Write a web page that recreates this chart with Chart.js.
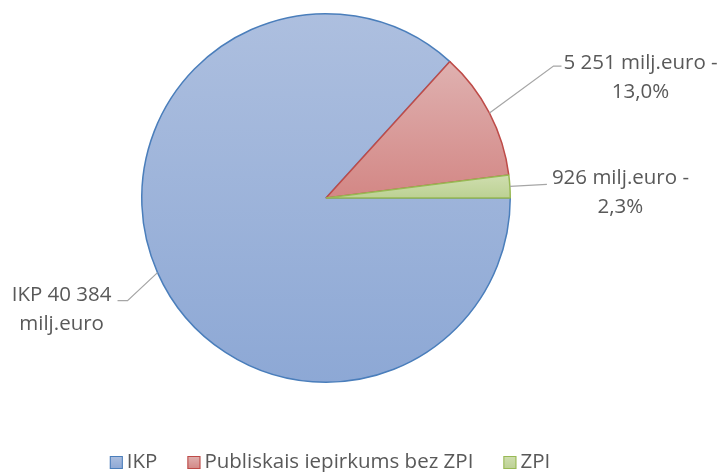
<!DOCTYPE html>
<html>
<head>
<meta charset="utf-8">
<script src="https://cdn.jsdelivr.net/npm/chart.js@4"></script>
<style>
  body { margin: 0; background: #fff; }
  #wrap { width: 723px; height: 472px; }
</style>
</head>
<body>
<div id="wrap"><canvas id="pie"></canvas></div>
<script>
const categories = ['IKP', 'Publiskais iepirkums bez ZPI', 'ZPI'];
const values = [40384, 5251, 926];
const valueLabels = ['IKP 40 384', '5 251 milj.euro -', '926 milj.euro -'];
const valueSubLabels = ['milj.euro', '13,0%', '2,3%'];

// styling
const fillTop = ['#adbfdf', '#dfb1b0', '#cfdeaf'];
const fillBottom = ['#8da8d5', '#d38785', '#bcd193'];
const borderColors = ['#4a7ebb', '#be4b48', '#98b954'];
const textColor = '#595959';
const lineColor = '#a6a6a6';
const font = '20.5px "Open Sans"';
// where each label sits, measured from the middle of its slice's outer edge
const labelPlacement = [
    { elbow: [-30, 28], end: [-40, 28], text: [-46, 28], align: 'right' },
    { elbow: [64, -47], end: [72, -47], text: [74, -44], align: 'left' },
    { elbow: [37, -2], end: [37, -2], text: [42, -2], align: 'left' }
];

// vertical gradient spanning the slice's own bounding box
function sliceGradient(context) {
    const chart = context.chart;
    const area = chart.chartArea;
    const i = context.dataIndex;
    if (!area || i === undefined) return fillBottom[0];
    const cx = (area.left + area.right) / 2;
    const cy = (area.top + area.bottom) / 2;
    const r = Math.min(area.width, area.height) / 2;
    const total = values.reduce((a, b) => a + b, 0);
    let a0 = 0;
    for (let k = 0; k < i; k++) a0 += values[k] / total * 2 * Math.PI;
    const a1 = a0 + values[i] / total * 2 * Math.PI;
    const ys = [cy, cy + r * Math.sin(a0), cy + r * Math.sin(a1)];
    [Math.PI / 2, 3 * Math.PI / 2].forEach(a => {
        if (a > a0 && a < a1) ys.push(cy + r * Math.sin(a));
    });
    const g = chart.ctx.createLinearGradient(0, Math.min(...ys), 0, Math.max(...ys));
    g.addColorStop(0, fillTop[i]);
    g.addColorStop(1, fillBottom[i]);
    return g;
}

const labelPlugin = {
    id: 'sliceLabels',
    afterDatasetsDraw(chart) {
        const ctx = chart.ctx;
        const meta = chart.getDatasetMeta(0);
        ctx.save();
        ctx.font = font;
        ctx.textBaseline = 'alphabetic';

        meta.data.forEach((arc, i) => {
            const p = arc.getProps(['x', 'y', 'startAngle', 'endAngle', 'outerRadius'], true);
            const mid = (p.startAngle + p.endAngle) / 2;
            const sx = p.x + Math.cos(mid) * p.outerRadius;
            const sy = p.y + Math.sin(mid) * p.outerRadius;
            const pl = labelPlacement[i];

            ctx.strokeStyle = lineColor;
            ctx.lineWidth = 1.25;
            ctx.beginPath();
            ctx.moveTo(sx, sy);
            ctx.lineTo(sx + pl.elbow[0], sy + pl.elbow[1]);
            ctx.lineTo(sx + pl.end[0], sy + pl.end[1]);
            ctx.stroke();

            const w1 = ctx.measureText(valueLabels[i]).width;
            const tx = sx + pl.text[0];
            const ty = sy + pl.text[1];
            const centerX = pl.align === 'left' ? tx + w1 / 2 : tx - w1 / 2;
            ctx.fillStyle = textColor;
            ctx.textAlign = 'center';
            ctx.fillText(valueLabels[i], centerX, ty);
            ctx.fillText(valueSubLabels[i], centerX, ty + 29);
        });

        // legend along the bottom
        const box = 13, boxGap = 4, itemGap = 30;
        const widths = categories.map(c => ctx.measureText(c).width);
        const totalW = widths.reduce((s, w) => s + box + boxGap + w, 0) + itemGap * (categories.length - 1);
        let x = meta.data[0].x + 4 - totalW / 2;
        const by = 468;
        categories.forEach((c, i) => {
            const g = ctx.createLinearGradient(0, by - 12, 0, by + 1);
            g.addColorStop(0, fillTop[i]);
            g.addColorStop(1, fillBottom[i]);
            ctx.fillStyle = g;
            ctx.fillRect(x, by - 12, box, box);
            ctx.strokeStyle = borderColors[i];
            ctx.lineWidth = 1;
            ctx.strokeRect(x + 0.5, by - 11.5, box - 1, box - 1);
            ctx.fillStyle = textColor;
            ctx.textAlign = 'left';
            ctx.fillText(c, x + box + boxGap, by);
            x += box + boxGap + widths[i] + itemGap;
        });
        ctx.restore();
    }
};

const chart = new Chart(document.getElementById('pie').getContext('2d'), {
    type: 'pie',
    data: {
        labels: categories,
        datasets: [{
            data: values,
            backgroundColor: sliceGradient,
            borderColor: borderColors,
            borderWidth: 1.5
        }]
    },
    options: {
        responsive: true,
        maintainAspectRatio: false,
        animation: false,
        events: [],
        rotation: 90,
        layout: {
            padding: { left: 141, top: 13, right: 212, bottom: 89 }
        },
        plugins: {
            legend: { display: false },
            tooltip: { enabled: false }
        }
    },
    plugins: [labelPlugin]
});
</script>
</body>
</html>
